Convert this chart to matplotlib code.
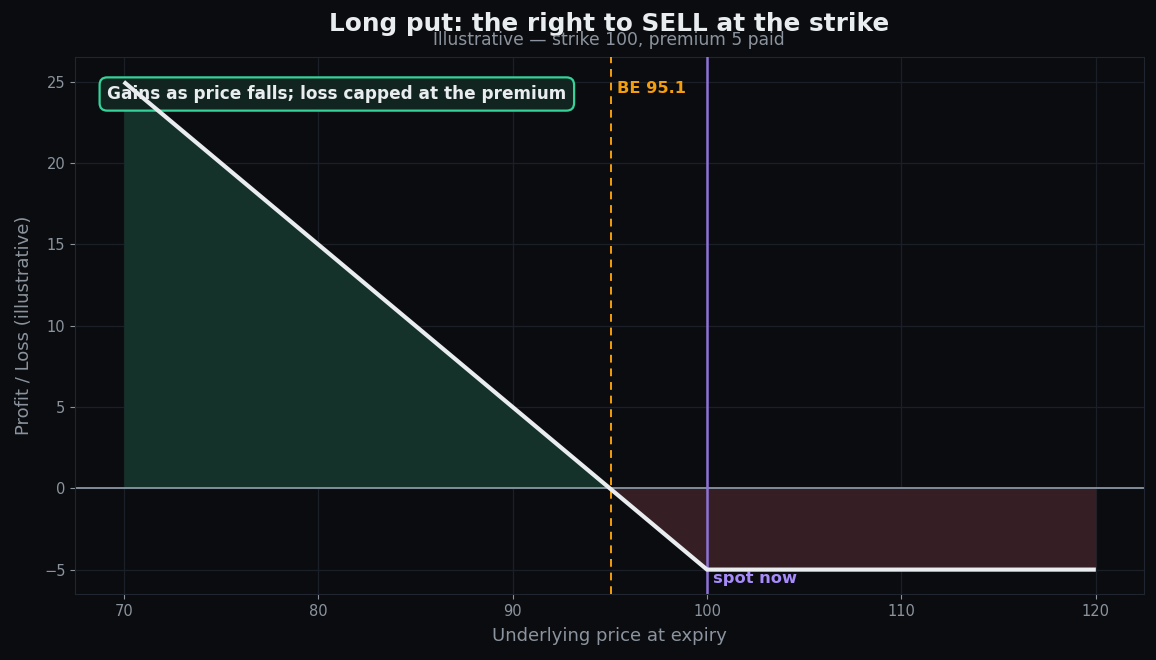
import numpy as np
import matplotlib
matplotlib.use("Agg")
import matplotlib.pyplot as plt

# payoff of a long put, strike 100, premium 5
price = [70, 100, 120]
pnl = [25, -5, -5]
strike = 100
breakeven = 95.05
be_label = "BE 95.1"

bg = "#0b0c10"
txt = "#8b949e"

fig, ax = plt.subplots(figsize=(11.56, 6.6), dpi=100)
fig.patch.set_facecolor(bg)
ax.set_facecolor(bg)

x = np.array(price, dtype=float)
y = np.array(pnl, dtype=float)
ax.fill_between(x, y, 0, where=y >= 0, interpolate=True, color="#14312a", lw=0)
ax.fill_between(x, y, 0, where=y <= 0, interpolate=True, color="#361f24", lw=0)
ax.axhline(0, color="#8a96a3", lw=1.3, zorder=2)
ax.plot(x, y, color="#e9edf0", lw=3, zorder=6, solid_capstyle="butt")

ax.axvline(breakeven, color="#f59e0b", lw=1.4, ls=(0, (4, 3)), zorder=3)
ax.axvline(strike, color="#8e73d6", lw=1.8, zorder=3)
ax.text(breakeven + 0.3, 24.6, be_label, color="#f59e0b", fontsize=11.7,
        fontweight="bold", va="center")
ax.text(strike + 0.3, -5.55, "spot now", color="#a78bfa", fontsize=11.7,
        fontweight="bold", va="center")
ax.text(69.15, 24.25, "Gains as price falls; loss capped at the premium",
        color="#e9edf0", fontsize=12.2, fontweight="bold", va="center",
        bbox=dict(boxstyle="round,pad=0.45", fc="#12241f", ec="#34d399", lw=1.6),
        zorder=5)

ax.margins(x=0.05, y=0.05)
ax.set_xticks([70, 80, 90, 100, 110, 120])
ax.set_yticks([-5, 0, 5, 10, 15, 20, 25])
ax.grid(True, color="#1a1f28", lw=0.9)
ax.set_axisbelow(True)
for s in ax.spines.values():
    s.set_color("#1f2630")
ax.tick_params(colors=txt, labelsize=10.5)
ax.set_xlabel("Underlying price at expiry", color=txt, fontsize=13, labelpad=6)
ax.set_ylabel("Profit / Loss (illustrative)", color=txt, fontsize=13, labelpad=8)

fig.text(0.527, 0.963, "Long put: the right to SELL at the strike", ha="center",
         va="center", color="#e9edf0", fontsize=17.8, fontweight="bold")
fig.text(0.527, 0.94, "Illustrative — strike 100, premium 5 paid", ha="center",
         va="center", color=txt, fontsize=12.3)

fig.subplots_adjust(left=0.065, right=0.99, top=0.913, bottom=0.1)
fig.savefig("out.png", dpi=100, facecolor=bg)
